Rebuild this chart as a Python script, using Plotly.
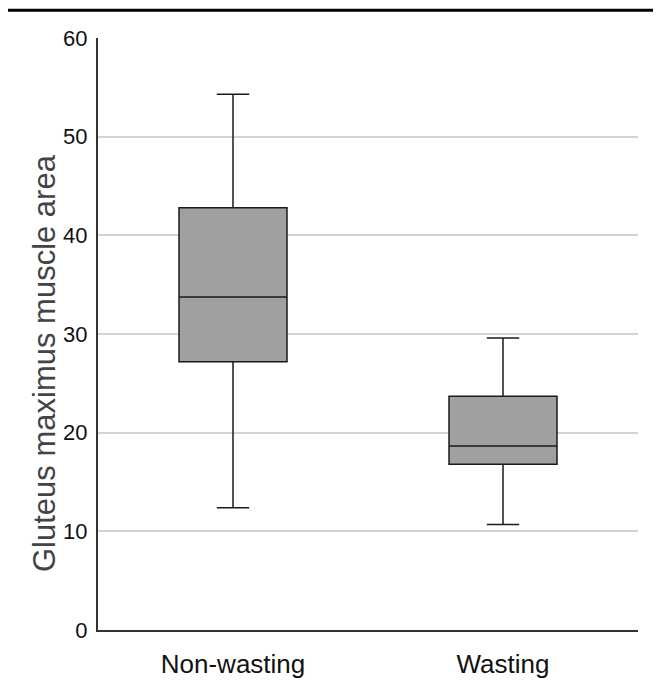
import plotly.graph_objects as go

categories = ["Non-wasting", "Wasting"]
q1 = [27.2, 16.8]
median = [33.75, 18.65]
q3 = [42.8, 23.7]
lowerfence = [12.4, 10.7]
upperfence = [54.3, 29.6]
y_ticks = [0, 10, 20, 30, 40, 50, 60]
y_title = "Gluteus maximus muscle area"

fig = go.Figure()
fig.add_trace(go.Box(
    x=categories, q1=q1, median=median, q3=q3,
    lowerfence=lowerfence, upperfence=upperfence,
    boxpoints=False, width=0.4, whiskerwidth=0.3,
    fillcolor="#a0a0a0", line=dict(color="#1a1a1a", width=1.5),
    showlegend=False, hoverinfo="skip",
))

font = "Liberation Sans, Arial"
# page body has an 8px margin, so the figure is sized to fit the window
fig.update_layout(
    width=653, height=674,
    margin=dict(l=90, r=23, t=30, b=52),
    paper_bgcolor="white", plot_bgcolor="white",
    xaxis=dict(
        range=[-0.5, 1.5], automargin=False,
        showgrid=False, showline=True, linecolor="#333333", linewidth=2,
        tickfont=dict(family=font, size=26, color="#111111"),
        ticks="", ticklabelstandoff=10,
    ),
    yaxis=dict(
        range=[0, 60], tickvals=y_ticks, automargin=False,
        showgrid=True, gridcolor="#d4d4d4", gridwidth=1.5,
        zeroline=False, showline=True, linecolor="#333333", linewidth=2,
        tickfont=dict(family=font, size=22, color="#111111"),
        ticks="", ticklabelstandoff=4,
    ),
    annotations=[dict(text=y_title, textangle=-90, xref="paper", yref="paper",
                      x=-0.1, y=0.451, xanchor="center", yanchor="middle", showarrow=False,
                      font=dict(family=font, size=31, color="#444444"))],
    shapes=[dict(type="line", xref="paper", yref="paper",
                 x0=-0.167, x1=1.043, y0=1.047, y1=1.047,
                 line=dict(color="black", width=3))],
)

fig.write_html("out.html")
